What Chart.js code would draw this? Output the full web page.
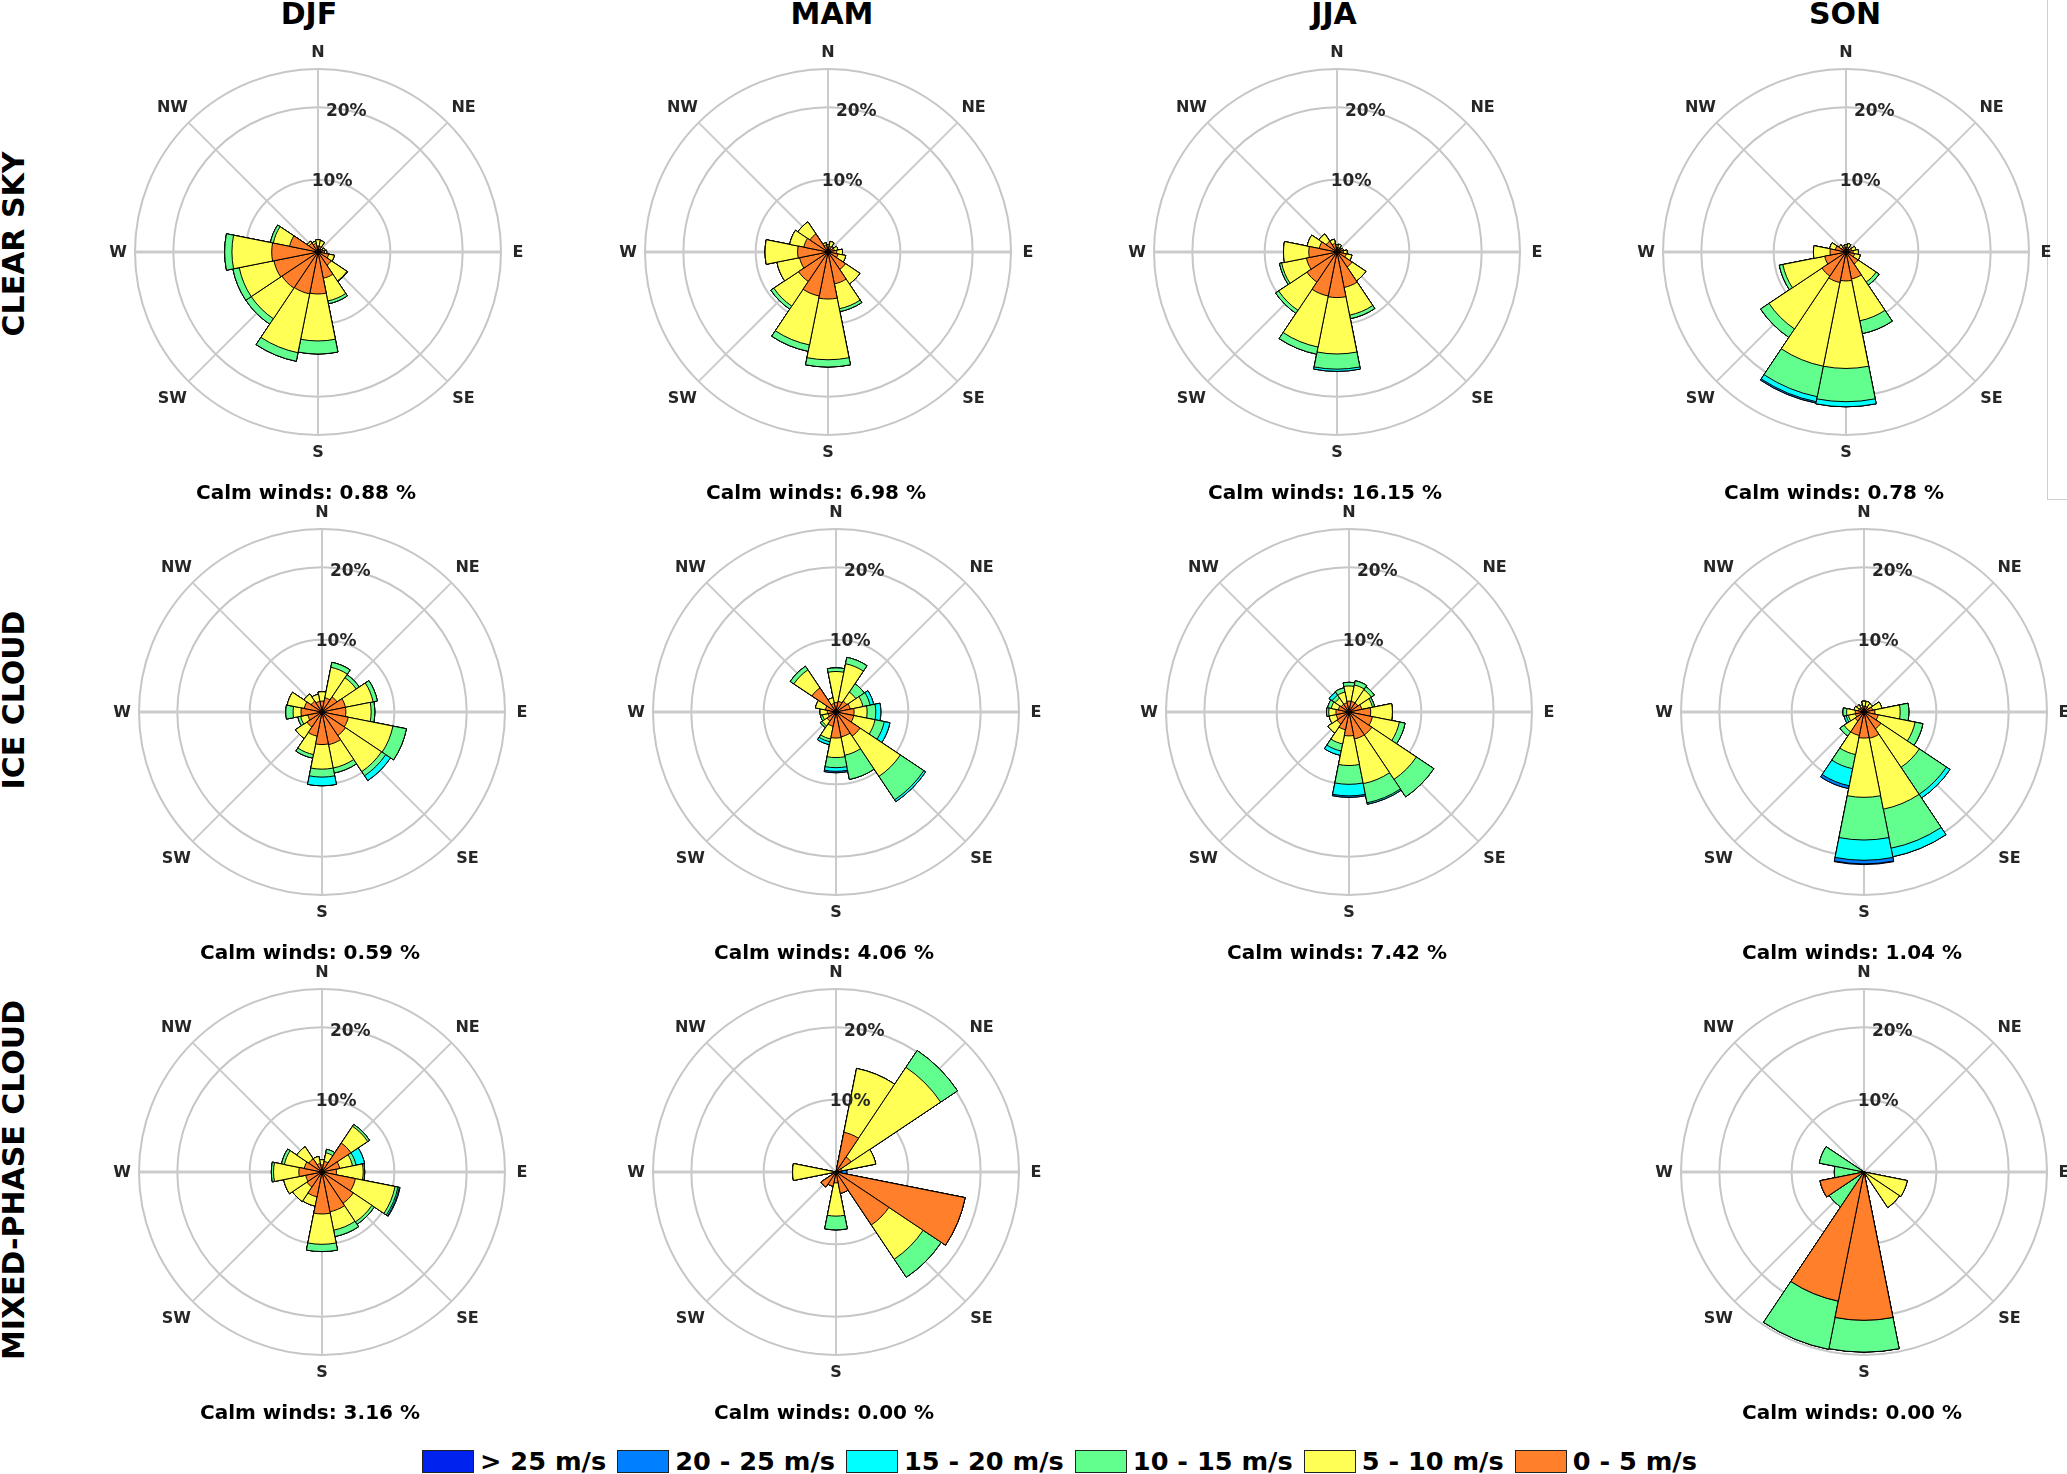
<!DOCTYPE html>
<html>
<head>
<meta charset="utf-8">
<script src="https://cdn.jsdelivr.net/npm/chart.js@4.4.1/dist/chart.umd.min.js"></script>
<style>
  html, body { margin: 0; padding: 0; background: #ffffff; }
  body { width: 2067px; height: 1474px; overflow: hidden; position: relative; font-family: 'DejaVu Sans', sans-serif; }
  canvas { position: absolute; }
  .txt { position: absolute; font-weight: bold; white-space: nowrap; transform: translate(-50%, -50%); color: #000; }
  .title { font-size: 30px; }
  .calm { font-size: 20px; }
  .rowlab { font-size: 30px; transform: translate(-50%, -50%) rotate(-90deg); }
  #legend { position: absolute; left: 422px; top: 1450px; height: 23px; display: flex; align-items: center; }
  .lbox { width: 50px; height: 21px; border: 1px solid #222; }
  .ltxt { font-weight: bold; font-size: 25.6px; line-height: 23px; margin-left: 6px; margin-right: 11px; color: #000; white-space: nowrap; }
  #frame { position: absolute; left: 2047px; top: -2px; width: 40px; height: 500px; border: 1px solid #cfcfcf; }
</style>
</head>
<body>
<div id="frame"></div>
<div id="legend"></div>
<script>
// ---------------- DATA ----------------
const DIRECTIONS = ['N','NNE','NE','ENE','E','ESE','SE','SSE','S','SSW','SW','WSW','W','WNW','NW','NNW'];
const COMPASS = ['N','NE','E','SE','S','SW','W','NW'];
const SPEED_BINS = ['0 - 5 m/s','5 - 10 m/s','10 - 15 m/s','15 - 20 m/s','20 - 25 m/s','> 25 m/s'];
const SEASONS = ['DJF','MAM','JJA','SON'];
const CLOUD_TYPES = ['CLEAR SKY','ICE CLOUD','MIXED-PHASE CLOUD'];
const PERCENT_TICKS = [10, 20];
const R_MAX = 25.3;

// frequency (%) per speed bin, directions N..NNW
const clearDJF = [
  [0.8,0.8,0.5,0.7,0.9,1.5,2.2,3.7,5.8,5.9,6.0,6.2,6.4,4.0,1.5,1.2],
  [0.9,0.8,0.3,0.3,0.3,0.8,2.6,3.2,6.5,8.3,5.1,4.9,5.5,2.3,0.3,0.3],
  [0,0,0,0,0,0,0.1,0.4,1.8,1.2,0.9,0.9,1.0,0.4,0,0]
];
const clearMAM = [
  [0.6,0.8,0.6,0.9,1.2,1.4,2.9,4.5,6.5,6.2,4.9,4.0,4.2,3.4,3.0,1.0],
  [0.4,0.7,0.3,0.5,0.8,1.1,2.4,3.5,8.4,6.9,4.1,3.2,4.5,2.0,2.0,0.3],
  [0,0,0,0,0,0,0,0.4,1.0,0.9,0.5,0,0,0,0,0]
];
const clearJJA = [
  [0.6,0.6,0.5,0.6,0.9,1.3,2.5,5.0,6.3,6.2,5.0,4.3,3.9,2.5,1.8,1.2],
  [0.4,0.5,0.2,0.3,0.5,0.8,2.3,3.9,7.8,7.2,4.7,3.5,3.5,1.7,1.2,0.6],
  [0,0,0,0,0,0,0,0.5,2.1,1.0,0.5,0.3,0,0,0,0],
  [0,0,0,0,0,0,0,0,0.3,0,0,0,0,0,0,0]
];
const clearSON = [
  [0.6,0.7,0.5,0.8,1.0,1.2,2.0,3.8,4.0,4.3,4.0,3.0,2.2,1.5,0.8,0.6],
  [0.4,0.5,0.3,0.6,0.7,0.8,3.0,5.9,12.1,11.8,8.8,5.9,2.3,0.8,0.4,0.3],
  [0,0,0,0,0,0,0.5,1.8,4.6,4.3,1.4,0.5,0,0,0,0],
  [0,0,0,0,0,0,0,0,0.7,0.7,0,0,0,0,0,0],
  [0,0,0,0,0,0,0,0,0,0.2,0,0,0,0,0,0]
];
const iceDJF = [
  [1.5,2.0,2.5,3.3,3.3,3.7,3.9,4.6,4.5,3.4,2.5,2.0,2.9,2.5,1.8,1.5],
  [1.3,4.3,3.2,3.9,3.5,6.3,6.0,3.3,3.4,2.6,1.9,1.0,1.1,2.4,1.2,1.0],
  [0,0.7,0.5,0.6,0.5,1.9,0.7,0.7,1.1,0.5,0,0.4,1.0,0,0,0],
  [0,0,0,0,0,0,0.8,0,1.2,0,0,0,0,0,0,0]
];
const iceMAM = [
  [1.3,1.5,1.8,2.0,2.5,2.5,4.0,3.5,3.6,2.0,1.5,1.1,1.2,1.5,4.0,1.2],
  [4.3,5.3,1.5,1.8,1.8,3.0,6.7,2.6,2.7,1.8,0.8,0.8,1.0,1.4,3.0,0.8],
  [0.5,0.9,1.4,1.0,1.2,1.3,3.9,3.4,1.4,0.4,0.3,0.3,0,0,0.6,0],
  [0,0,0,0.5,0.7,0.8,0.3,0,0.5,0.4,0,0,0,0,0,0],
  [0,0,0,0,0,0,0,0,0.2,0,0,0,0,0,0,0]
];
const iceJJA = [
  [1.5,1.5,1.5,1.8,3.0,3.3,3.8,3.8,3.3,2.5,2.0,1.8,1.8,1.5,1.3,1.3],
  [2.1,2.3,2.2,1.5,3.0,3.8,7.4,6.3,4.1,2.0,1.5,1.0,1.0,1.0,1.0,1.5],
  [0.5,0.6,0.5,0.3,0,0.8,2.9,2.7,2.6,1.0,0,0,0.3,0.5,0.5,0.6],
  [0,0,0,0,0,0,0,0.2,1.6,0.6,0,0,0,0,0.5,0],
  [0,0,0,0,0,0,0,0,0.2,0,0,0,0,0,0,0]
];
const iceSON = [
  [0.8,0.8,0.8,1.2,1.5,2.0,2.8,3.7,3.6,3.3,1.5,1.2,1.2,0.8,0.7,0.6],
  [0.7,0.7,0.6,1.3,3.5,5.2,6.4,10.0,8.2,2.7,1.8,1.0,1.2,0.6,0.5,0.4],
  [0,0,0,0,1.2,1.1,4.5,5.5,5.9,2.0,0.7,0.3,0.5,0,0,0],
  [0,0,0,0,0,0,0.6,1.2,2.8,2.4,0,0.3,0,0,0,0],
  [0,0,0,0,0,0,0,0,0.5,0.4,0,0,0,0,0,0],
  [0,0,0,0,0,0,0,0,0.1,0,0,0,0,0,0,0]
];
const mixedDJF = [
  [1.0,1.5,4.8,2.5,2.0,4.7,5.2,5.6,5.8,3.5,2.5,2.3,3.2,2.5,2.2,1.2],
  [0.7,1.2,2.8,1.8,3.7,5.6,3.1,2.6,4.2,1.3,2.4,3.1,3.5,2.8,2.0,1.0],
  [0,0.5,0.3,0.5,0.2,0.4,0.4,0.9,1.0,0,0,0,0.3,0.4,0,0],
  [0,0,0,1.2,0,0.2,0,0,0,0,0,0,0,0,0,0],
  [0,0,0,0,0,0.1,0,0,0,0,0,0,0,0,0,0]
];
const mixedMAM = [
  [0,5.6,2.5,0.8,0,18.2,8.8,3.0,1.5,2.0,2.5,0,0.3,0,0,0],
  [0,9.0,14.9,4.8,0,0,5.7,0,4.6,0,0,0,5.7,0,0,0],
  [0,0,2.8,0,0,0,3.0,0,1.9,0,0,0,0,0,0,0],
  [0,0,0,0,0,0,0,0,0,0,0,0,0,0,0,0],
  [0,0,0,0,1.5,0,0,0,0,0,0,0,0,0,0,0]
];
const mixedSON = [
  [0,0,0,0,0,0,0,0,20.5,18.2,0,6.2,0,0,0,0],
  [0,0,0,0,0,6.1,5.9,0,0,0,0,0,0,0,0,0],
  [0,0,0,0,0,0,0,0,4.4,6.8,5.8,0,4.1,6.3,0,0]
];
const CALM_CLEAR = [0.88, 6.98, 16.15, 0.78];
const CALM_ICE = [0.59, 4.06, 7.42, 1.04];
const CALM_MIXED = [3.16, 0.00, null, 0.00];

// ---------------- STYLE / LAYOUT ----------------
const BIN_COLORS = ['#ff7f2a', '#ffff55', '#62ff8e', '#00ffff', '#0080ff', '#0022ee'];
const GRID_COLOR = '#c6c6c6';
const SPOKE_COLOR = '#cbcbcb';
const LABEL_COLOR = '#262626';
const CW = 500, CH = 470;
const ROSE_CENTERS = [
  [[318, 252], [828, 252], [1337, 252], [1846, 252]],
  [[322, 712], [836, 712], [1349, 712], [1864, 712]],
  [[322, 1172], [836, 1172], null, [1864, 1172]]
];
const TITLE_X = [309, 832, 1334, 1845];
const ROWLAB_Y = [244, 700, 1180];

Chart.defaults.font.family = "'DejaVu Sans', sans-serif";

const roseDecor = {
  id: 'roseDecor',
  beforeDatasetsDraw(chart) {
    const s = chart.scales.r, ctx = chart.ctx;
    const R = s.getDistanceFromCenterForValue(s.max);
    ctx.save();
    ctx.strokeStyle = SPOKE_COLOR;
    for (let k = 0; k < 8; k++) {
      const a = k * Math.PI / 4;
      ctx.lineWidth = (k === 2 || k === 6) ? 3 : 2;
      ctx.beginPath();
      ctx.moveTo(s.xCenter, s.yCenter);
      ctx.lineTo(s.xCenter + R * Math.sin(a), s.yCenter - R * Math.cos(a));
      ctx.stroke();
    }
    ctx.restore();
  },
  afterDatasetsDraw(chart) {
    const s = chart.scales.r, ctx = chart.ctx;
    const R = s.getDistanceFromCenterForValue(s.max);
    ctx.save();
    ctx.fillStyle = LABEL_COLOR;
    ctx.textAlign = 'center';
    ctx.textBaseline = 'middle';
    ctx.font = "bold 16px 'DejaVu Sans'";
    COMPASS.forEach((lab, k) => {
      const a = k * Math.PI / 4;
      const rr = R * (k % 2 ? 1.125 : 1.093);
      ctx.fillText(lab, s.xCenter + rr * Math.sin(a), s.yCenter - rr * Math.cos(a) + 1);
    });
    ctx.font = "bold 17px 'DejaVu Sans'";
    const ta = 11.25 * Math.PI / 180;
    PERCENT_TICKS.forEach(v => {
      const rr = s.getDistanceFromCenterForValue(v);
      ctx.fillText(v + '%', s.xCenter + rr * Math.sin(ta), s.yCenter - rr * Math.cos(ta) + 1);
    });
    ctx.restore();
  }
};

function makeRose(bins, cx, cy) {
  const cv = document.createElement('canvas');
  cv.width = CW; cv.height = CH;
  cv.style.left = (cx - CW / 2) + 'px';
  cv.style.top = (cy - CH / 2) + 'px';
  document.body.appendChild(cv);
  const datasets = [];
  let run = new Array(DIRECTIONS.length).fill(0);
  for (let k = 0; k < SPEED_BINS.length; k++) {
    const b = bins[k] || [];
    run = run.map((v, i) => v + (b[i] || 0));
    datasets.push({
      label: SPEED_BINS[k],
      data: run.slice(),
      backgroundColor: BIN_COLORS[k],
      borderColor: '#000000',
      borderWidth: 1
    });
  }
  const padX = CW / 2 - 183, padY = CH / 2 - 183;
  new Chart(cv, {
    type: 'polarArea',
    data: { labels: DIRECTIONS, datasets },
    options: {
      responsive: false,
      animation: false,
      events: [],
      layout: { padding: { left: padX, right: padX, top: padY, bottom: padY } },
      plugins: { legend: { display: false }, tooltip: { enabled: false } },
      scales: {
        r: {
          min: 0,
          max: R_MAX,
          startAngle: -11.25,
          ticks: { display: false, stepSize: 10 },
          afterBuildTicks: (scale) => {
            scale.ticks = [0, ...PERCENT_TICKS, R_MAX].map(v => ({ value: v }));
          },
          grid: { circular: true, color: GRID_COLOR, lineWidth: 2 },
          angleLines: { display: false },
          pointLabels: { display: false }
        }
      }
    },
    plugins: [roseDecor]
  });
}

function addText(cls, text, x, y) {
  const d = document.createElement('div');
  d.className = 'txt ' + cls;
  d.textContent = text;
  d.style.left = x + 'px';
  d.style.top = y + 'px';
  document.body.appendChild(d);
}

const ROSES = [
  [clearDJF, clearMAM, clearJJA, clearSON],
  [iceDJF, iceMAM, iceJJA, iceSON],
  [mixedDJF, mixedMAM, null, mixedSON]
];
const CALMS = [CALM_CLEAR, CALM_ICE, CALM_MIXED];

SEASONS.forEach((s, j) => addText('title', s, TITLE_X[j], 13));
CLOUD_TYPES.forEach((c, i) => addText('rowlab', c, 13, ROWLAB_Y[i]));

ROSES.forEach((row, i) => {
  row.forEach((bins, j) => {
    if (!bins) return;
    const [cx, cy] = ROSE_CENTERS[i][j];
    makeRose(bins, cx, cy);
    addText('calm', 'Calm winds: ' + CALMS[i][j].toFixed(2) + ' %', cx - 12, cy + 240);
  });
});

// legend (highest speed first)
const legend = document.getElementById('legend');
for (let k = SPEED_BINS.length - 1; k >= 0; k--) {
  const box = document.createElement('div');
  box.className = 'lbox';
  box.style.background = BIN_COLORS[k];
  const t = document.createElement('div');
  t.className = 'ltxt';
  t.textContent = SPEED_BINS[k];
  legend.appendChild(box);
  legend.appendChild(t);
}
</script>
</body>
</html>
